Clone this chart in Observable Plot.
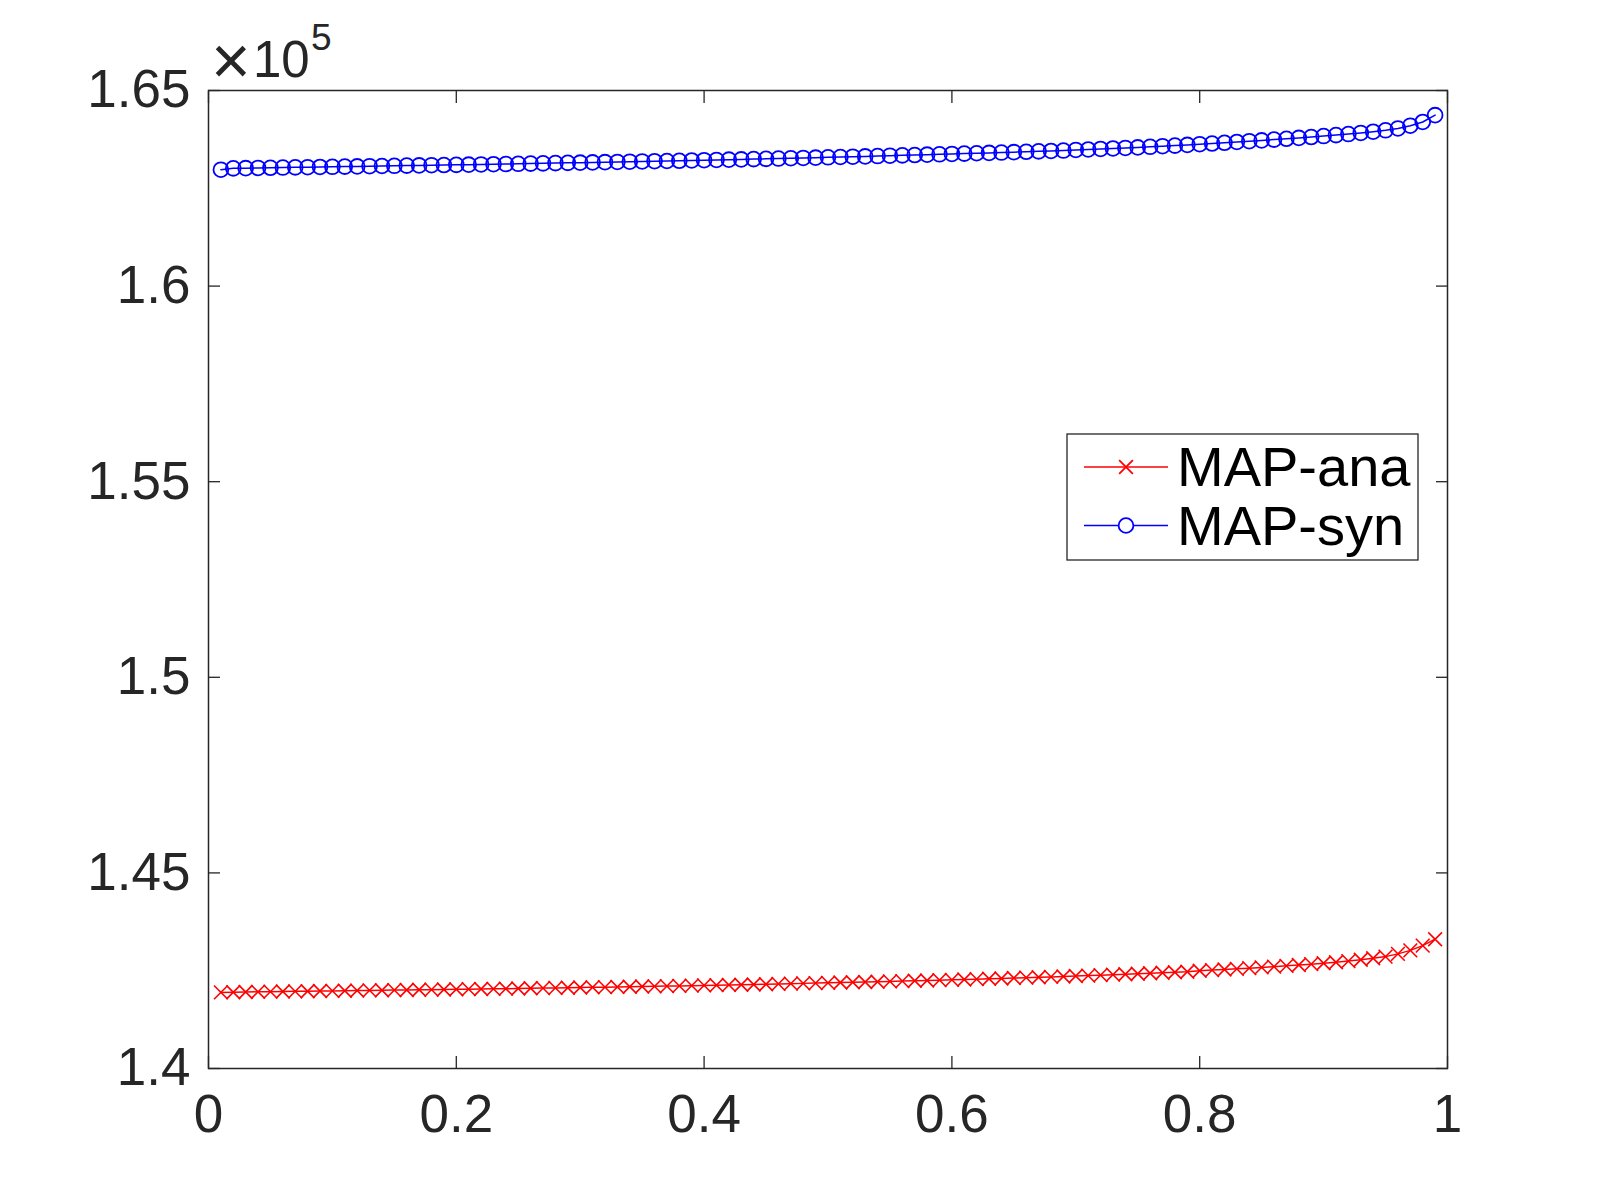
<!DOCTYPE html>
<html>
<head>
<meta charset="utf-8">
<script src="https://cdn.jsdelivr.net/npm/d3@7"></script>
<script src="https://cdn.jsdelivr.net/npm/@observablehq/plot@0.6"></script>
<style>
  html, body { margin: 0; padding: 0; background: #fff; }
  #chart { width: 1600px; height: 1200px; }
</style>
</head>
<body>
<div id="chart"></div>
<script>
// ---- data ----
const xValues = [
  0.01,0.02,0.03,0.04,0.05,0.06,0.07,0.08,0.09,0.10,
  0.11,0.12,0.13,0.14,0.15,0.16,0.17,0.18,0.19,0.20,
  0.21,0.22,0.23,0.24,0.25,0.26,0.27,0.28,0.29,0.30,
  0.31,0.32,0.33,0.34,0.35,0.36,0.37,0.38,0.39,0.40,
  0.41,0.42,0.43,0.44,0.45,0.46,0.47,0.48,0.49,0.50,
  0.51,0.52,0.53,0.54,0.55,0.56,0.57,0.58,0.59,0.60,
  0.61,0.62,0.63,0.64,0.65,0.66,0.67,0.68,0.69,0.70,
  0.71,0.72,0.73,0.74,0.75,0.76,0.77,0.78,0.79,0.80,
  0.81,0.82,0.83,0.84,0.85,0.86,0.87,0.88,0.89,0.90,
  0.91,0.92,0.93,0.94,0.95,0.96,0.97,0.98,0.99
];
const mapAna = [
  141945,141950,141955,141960,141964,141968,141972,141976,141980,141984,
  141988,141992,141996,142000,142004,142008,142012,142016,142020,142024,
  142028,142032,142036,142040,142045,142050,142055,142060,142065,142070,
  142075,142080,142085,142090,142095,142100,142106,142112,142118,142124,
  142130,142136,142142,142148,142155,142162,142169,142176,142183,142190,
  142197,142204,142211,142218,142226,142234,142242,142250,142258,142266,
  142275,142284,142293,142302,142312,142322,142332,142342,142353,142364,
  142375,142386,142398,142410,142422,142434,142447,142460,142474,142500,
  142515,142530,142547,142565,142584,142604,142624,142645,142667,142690,
  142715,142745,142780,142818,142860,142930,143020,143140,143305
];
const mapSyn = [
  162975,163010,163015,163020,163025,163030,163035,163040,163045,163050,
  163055,163060,163065,163070,163075,163080,163085,163090,163095,163100,
  163105,163110,163115,163120,163126,163132,163138,163144,163150,163156,
  163162,163168,163174,163180,163186,163192,163198,163204,163211,163218,
  163225,163232,163239,163246,163253,163260,163268,163276,163284,163292,
  163300,163308,163316,163324,163333,163342,163351,163360,163369,163378,
  163387,163396,163405,163414,163424,163434,163444,163454,163465,163480,
  163492,163505,163518,163532,163546,163561,163576,163592,163609,163627,
  163645,163664,163684,163704,163724,163745,163766,163788,163811,163835,
  163860,163887,163915,163946,163982,164030,164100,164195,164370
];
const seriesNames = ["MAP-ana", "MAP-syn"];
const seriesColors = ["#ff0000", "#0000ff"];
const seriesSymbols = ["times", "circle"];
const xTicks = [0, 0.2, 0.4, 0.6, 0.8, 1];
const xTickLabels = ["0", "0.2", "0.4", "0.6", "0.8", "1"];
const yTicks = [140000, 145000, 150000, 155000, 160000, 165000];
const yTickLabels = ["1.4", "1.45", "1.5", "1.55", "1.6", "1.65"];
const exponentLabel = "5";

// ---- build ----
const ana = xValues.map((x, i) => ({x, y: mapAna[i]}));
const syn = xValues.map((x, i) => ({x, y: mapSyn[i]}));
const axisColor = "#262626";
const font = "'Liberation Sans', Arial, Helvetica, sans-serif";

const chart = Plot.plot({
  width: 1600,
  height: 1200,
  marginLeft: 208,
  marginRight: 153,
  marginTop: 90,
  marginBottom: 132,
  x: {domain: [0, 1]},
  y: {domain: [140000, 165000]},
  style: {fontFamily: font, fontSize: "53px", color: axisColor, background: "white", overflow: "visible"},
  marks: [
    Plot.line(ana, {x: "x", y: "y", stroke: seriesColors[0], strokeWidth: 1.5}),
    Plot.dot(ana, {x: "x", y: "y", symbol: seriesSymbols[0], r: 6.3, stroke: seriesColors[0], strokeWidth: 1.6}),
    Plot.line(syn, {x: "x", y: "y", stroke: seriesColors[1], strokeWidth: 1.5}),
    Plot.dot(syn, {x: "x", y: "y", symbol: seriesSymbols[1], r: 7.4, stroke: seriesColors[1], fill: "none", strokeWidth: 1.8}),
    Plot.frame({stroke: axisColor, strokeWidth: 1.5}),
    Plot.axisX({anchor: "bottom", ticks: xTicks, tickSize: -12, tickPadding: 38, strokeWidth: 1.3,
      tickFormat: d => xTickLabels[xTicks.indexOf(d)], fontSize: 53, label: null}),
    Plot.axisX({anchor: "top", ticks: xTicks, tickSize: -12, strokeWidth: 1.3, tickFormat: () => "", label: null}),
    Plot.axisY({anchor: "left", ticks: yTicks, tickSize: -12, tickPadding: 30, strokeWidth: 1.3,
      tickFormat: d => yTickLabels[yTicks.indexOf(d)], fontSize: 53, label: null}),
    Plot.axisY({anchor: "right", ticks: yTicks, tickSize: -12, strokeWidth: 1.3, tickFormat: () => "", label: null})
  ]
});
document.getElementById("chart").appendChild(chart);

const svg = d3.select(chart);

// exponent label  ×10^5
const ex = svg.append("g").attr("font-family", font).attr("fill", axisColor).attr("text-anchor", "start");
ex.append("text").attr("x", 211).attr("y", 84).attr("font-size", 68).attr("font-weight", 300).text("×");
ex.append("text").attr("x", 253).attr("y", 77).attr("font-size", 51).text("10");
ex.append("text").attr("x", 311).attr("y", 50).attr("font-size", 37).text(exponentLabel);

// legend
const lg = svg.append("g").attr("text-anchor", "start");
lg.append("rect")
  .attr("x", 1067).attr("y", 434).attr("width", 351).attr("height", 126)
  .attr("fill", "white").attr("stroke", axisColor).attr("stroke-width", 1.3);
const symMap = {times: d3.symbolTimes, circle: d3.symbolCircle};
const symSize = {times: Math.PI * 6.3 * 6.3, circle: Math.PI * 7.4 * 7.4};
seriesNames.forEach((name, i) => {
  const cy = 467 + i * 58.5;
  lg.append("line").attr("x1", 1084).attr("x2", 1168).attr("y1", cy).attr("y2", cy)
    .attr("stroke", seriesColors[i]).attr("stroke-width", 1.5);
  lg.append("path")
    .attr("d", d3.symbol(symMap[seriesSymbols[i]], symSize[seriesSymbols[i]])())
    .attr("transform", `translate(1126,${cy})`)
    .attr("fill", i === 1 ? "white" : "none").attr("stroke", seriesColors[i]).attr("stroke-width", 1.8);
  lg.append("text").attr("x", 1177).attr("y", cy + 19)
    .attr("font-family", font).attr("font-size", 56).attr("fill", "#000").text(name);
});
</script>
</body>
</html>
